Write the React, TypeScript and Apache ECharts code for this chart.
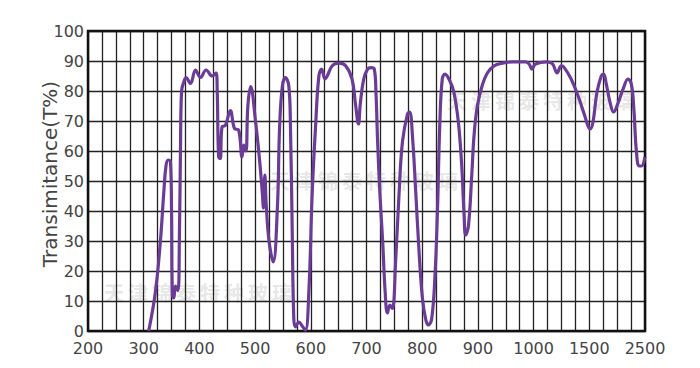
import React, { useEffect, useRef } from "react";
import * as echarts from "echarts";

// x tick labels (nm); 4 minor grid divisions between consecutive labels
const tickLabels = ["200", "300", "400", "500", "600", "700", "800", "900", "1000", "1500", "2500"];

// wavelength (nm)
const wavelengths = [
  309, 321, 330, 336, 340, 344, 348, 350, 351.5, 354, 357, 361.5, 364, 366, 368, 372, 376, 384, 393, 402,
  412, 423, 430, 432, 434.5, 437.5, 440.5, 446.5, 455.5, 463, 470.5, 476.5, 479.5, 483.5, 487, 492, 501, 508,
  513, 515, 517.5, 520, 525, 532.5, 540, 544, 549, 554.5, 560.5, 563.5, 566.5, 569.5, 572.5, 578.5, 585.5,
  590.5, 596.5, 602.5, 608.5, 614.5, 619.5, 625.5, 629.5, 638.5, 650.5, 662.5, 674, 680, 685.5, 689, 695,
  702, 708, 714, 717, 720, 724, 729, 733.5, 737.5, 742, 746.5, 752.5, 758.5, 764.5, 773.5, 777.5, 782.5,
  788.5, 794.5, 800.5, 806.5, 811, 817, 823, 827.5, 831.5, 836, 841, 849.5, 857, 865, 871, 875, 878, 883,
  889, 893, 899, 908, 917, 929, 944, 962, 986, 992, 997, 1012, 1062, 1125, 1171, 1211, 1248, 1275, 1337,
  1398, 1457, 1488, 1517, 1565, 1637, 1715, 1757, 1800, 1875, 1937, 2016, 2106, 2196, 2255, 2300, 2345,
  2393, 2437, 2497,
];

// transmittance (T%)
const transmittance = [
  0, 13, 30, 46, 55, 57, 56.5, 40, 12, 11, 15, 13.5, 30, 60, 80, 83, 84.5, 82.5, 87, 84.5,
  87, 85, 86, 80, 58, 57.5, 68, 68.5, 73.5, 67.5, 67, 58, 62, 60, 75, 81.5, 69.5, 57,
  46, 41, 52, 42, 30, 23, 41, 68, 81.7, 84.5, 81.7, 68, 35, 4, 1.4, 3, 1.4,
  0.3, 13, 46, 68, 85, 87.3, 84, 85, 88.4, 89.3, 88.4, 84, 76, 69, 76, 84,
  87.3, 87.8, 87.3, 79.5, 63, 46, 30, 13, 6, 8.6, 7.5, 24, 46, 63, 72.3, 73, 65,
  46, 26, 10.8, 3.7, 2, 4, 18.6, 40.7, 68.4, 84, 85.6, 83.4, 79.5, 69.5, 55, 39.6, 32, 35,
  52, 65, 75, 82, 86, 88.4, 89.3, 89.7, 89.7, 89, 87.3, 88.8, 89.5, 89.7, 89, 86, 88.4, 87.8, 84,
  78.5, 72, 68.4, 67.4, 69.5, 79.5, 85, 85.6, 82.8, 76, 73, 76, 80.6, 84, 82.3, 74, 60,
  55, 55, 58,
];

const watermarkText = "天津锦泰特种玻璃";
const yAxisTitle = "Transimitance(T%)";

// piecewise axis: minor-grid units (0..40)
function wlToPos(wl: number): number {
  if (wl <= 1000) return (wl - 200) / 25;
  if (wl <= 1500) return 32 + (wl - 1000) / 125;
  return 36 + (wl - 1500) / 250;
}

function watermark(x0: number, y: number) {
  return {
    type: "group",
    silent: true,
    z: 5,
    children: watermarkText.split("").map((ch, i) => ({
      type: "text",
      x: x0 + i * 24,
      y,
      style: {
        text: ch,
        font: 'bold 20px "Noto Sans CJK SC"',
        fill: "rgba(170,170,170,0.3)",
        verticalAlign: "middle",
      },
    })),
  };
}

export default function App() {
  const ref = useRef<HTMLDivElement>(null);
  useEffect(() => {
    if (!ref.current) return;
    const chart = echarts.init(ref.current, null, { renderer: "svg" });
    const data = wavelengths.map((w, i) => [wlToPos(w), transmittance[i]]);
    chart.setOption({
      animation: false,
      grid: {
        left: 88,
        top: 31,
        width: 557,
        height: 300,
        show: true,
        borderColor: "#111",
        borderWidth: 2.5,
        backgroundColor: "transparent",
        z: 3,
      },
      xAxis: {
        type: "value",
        min: 0,
        max: 40,
        interval: 1,
        axisLine: { show: false },
        axisTick: { show: false },
        axisLabel: {
          margin: 11,
          fontFamily: "DejaVu Sans",
          fontSize: 16,
          lineHeight: 13,
          color: "#444",
          formatter: (v: number) => (v % 4 === 0 ? tickLabels[v / 4] : ""),
        },
        splitLine: { show: true, lineStyle: { color: "#222", width: 1.3 } },
      },
      yAxis: {
        type: "value",
        min: 0,
        max: 100,
        interval: 10,
        axisLine: { show: false },
        axisTick: { show: false },
        axisLabel: {
          margin: 4,
          fontFamily: "DejaVu Sans",
          fontSize: 16,
          lineHeight: 13,
          padding: [0, 0, 3, 0],
          color: "#444",
        },
        splitLine: { show: true, lineStyle: { color: "#222", width: 1.3 } },
      },
      graphic: [
        {
          type: "text",
          x: 50,
          y: 174,
          rotation: Math.PI / 2,
          style: {
            text: yAxisTitle,
            font: '20px "DejaVu Sans"',
            fill: "#444",
            align: "center",
            verticalAlign: "middle",
          },
        },
        watermark(447, 100),
        watermark(270, 180),
        watermark(104, 292),
      ],
      series: [
        {
          type: "line",
          data,
          showSymbol: false,
          smooth: 0.4,
          clip: true,
          z: 4,
          lineStyle: { color: "#6b3c95", width: 3.2 },
        },
      ],
    });
    return () => chart.dispose();
  }, []);
  return (
    <div
      ref={ref}
      style={{ position: "absolute", left: 0, top: 0, width: 700, height: 368, background: "#fff" }}
    />
  );
}
